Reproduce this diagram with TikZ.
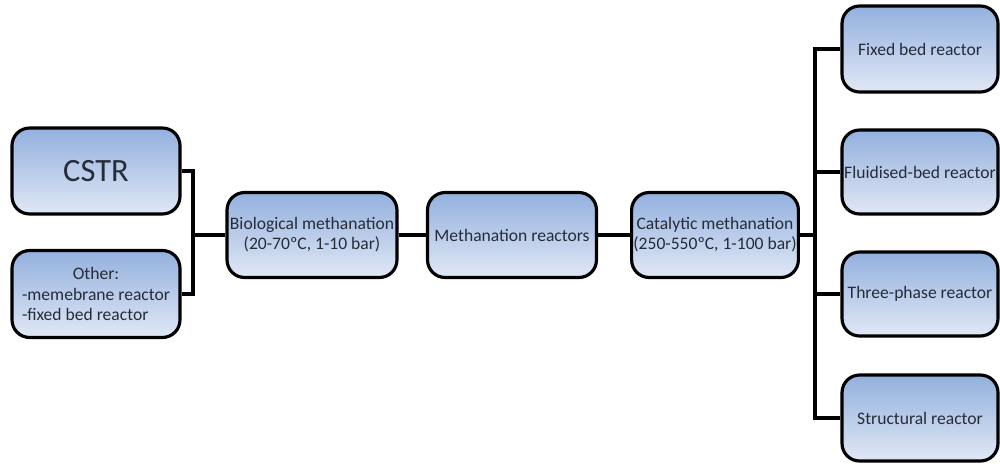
\documentclass[tikz,border=0pt]{standalone}
\usepackage{fontspec}
\usepackage{calc}
\setmainfont{Carlito}
\definecolor{txt}{HTML}{262C38}
\definecolor{topb}{HTML}{93B0DE}
\definecolor{botb}{HTML}{E0E8F5}
\tikzset{
  box/.style={draw=black, line width=1.8pt, rounded corners=10pt, top color=topb, bottom color=botb,
    align=center, text=txt, font=\fontsize{10}{11.5}\selectfont, inner sep=1pt},
  conn/.style={draw=black, line width=2.4pt, line join=miter}
}
\begin{document}
\begin{tikzpicture}[x=0.02cm,y=-0.02cm]
\useasboundingbox (0,0) rectangle (1000,463);
\node[box, minimum width=3.36cm, minimum height=1.72cm, font=\fontsize{18.5}{20}\selectfont] (cstr) at (96,171) {CSTR};
\node[box, minimum width=3.36cm, minimum height=1.74cm, align=left] (other) at (96,294) {\makebox[\widthof{-memebrane reactor}][c]{Other:}\\-memebrane reactor\\-fixed bed reactor};
\node[box, minimum width=3.40cm, minimum height=1.70cm] (bio) at (312,235) {Biological methanation\\(20-70ºC, 1-10 bar)};
\node[box, minimum width=3.38cm, minimum height=1.70cm] (meth) at (512,235) {Methanation reactors};
\node[box, minimum width=3.32cm, minimum height=1.70cm] (cat) at (715,235) {Catalytic methanation\\(250-550ºC, 1-100 bar)};
\node[box, minimum width=3.12cm, minimum height=1.72cm] (fixed) at (920,49) {Fixed bed reactor};
\node[box, minimum width=3.12cm, minimum height=1.68cm] (fluid) at (920,172) {Fluidised-bed reactor};
\node[box, minimum width=3.12cm, minimum height=1.68cm] (three) at (920,294) {Three-phase reactor};
\node[box, minimum width=3.12cm, minimum height=1.72cm] (struct) at (920,418) {Structural reactor};
\coordinate (jl) at (193,235);
\coordinate (jr) at (815,235);
\draw[conn] (cstr.east) -| (jl) |- (other.east);
\draw[conn] (jl) -- (bio.west);
\draw[conn] (bio.east) -- (meth.west);
\draw[conn] (meth.east) -- (cat.west);
\draw[conn] (cat.east) -- (jr);
\draw[conn] (fixed.west) -| (jr) |- (struct.west);
\draw[conn] (fluid.west) -- (fluid.west -| jr);
\draw[conn] (three.west) -- (three.west -| jr);
\end{tikzpicture}
\end{document}
